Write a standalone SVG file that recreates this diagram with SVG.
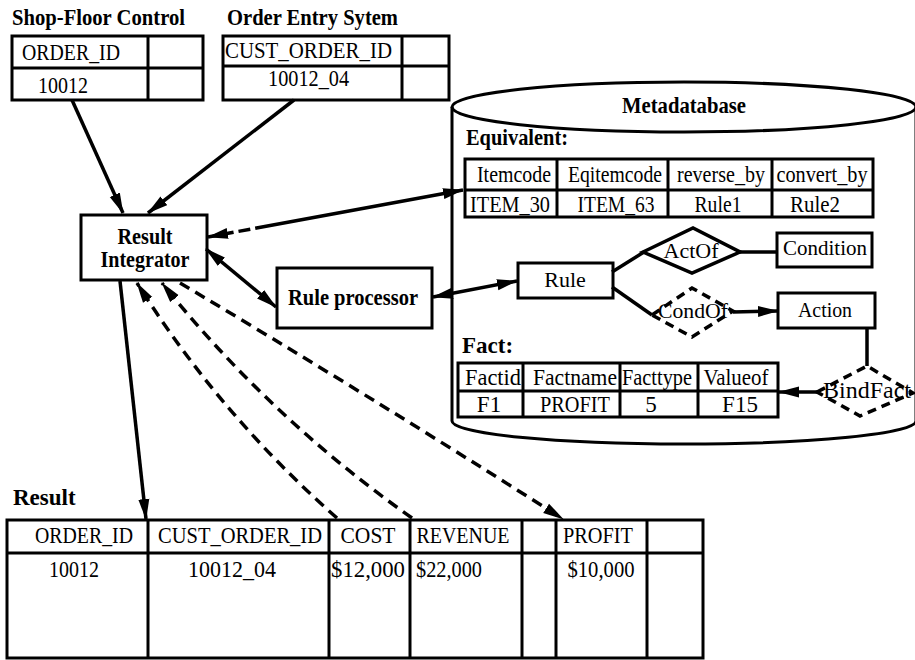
<svg xmlns="http://www.w3.org/2000/svg" width="915" height="660" viewBox="0 0 915 660">
  <style>
    .t { font-family: "Liberation Serif", "Times New Roman", serif; font-size: 23px; fill: #000; }
    .s { font-size: 22px; }
    .b { font-weight: bold; }
    .m { text-anchor: middle; }
    .box { fill: #fff; stroke: #000; stroke-width: 3; }
    .ln { fill: none; stroke: #000; stroke-width: 3; }
    .dia { fill: #fff; stroke: #000; stroke-width: 3.5; }
    .dsh { stroke-dasharray: 9 6; }
    .con { fill: none; stroke: #000; stroke-width: 3.5; }
    .dcon { fill: none; stroke: #000; stroke-width: 3.5; stroke-dasharray: 11 7; }
  </style>
  <defs>
    <marker id="ah" markerUnits="userSpaceOnUse" viewBox="0 0 21 12" markerWidth="21" markerHeight="12" refX="20" refY="6" orient="auto-start-reverse">
      <path d="M0,0.5 L21,6 L0,11.5 Z" fill="#000"/>
    </marker>
  </defs>
  <rect width="915" height="660" fill="#fff"/>

  <!-- source system: shop floor -->
  <g id="shop-floor-control">
    <text class="t b" x="12" y="25" font-size="24" textLength="173" lengthAdjust="spacingAndGlyphs">Shop-Floor Control</text>
    <rect class="box" x="12" y="36" width="191" height="64"/>
    <line class="ln" x1="12" y1="68" x2="203" y2="68"/>
    <line class="ln" x1="148" y1="36" x2="148" y2="100"/>
    <text class="t" x="22" y="60" textLength="98" lengthAdjust="spacingAndGlyphs">ORDER_ID</text>
    <text class="t" x="38" y="93" textLength="50" lengthAdjust="spacingAndGlyphs">10012</text>
  </g>

  <!-- source system: order entry -->
  <g id="order-entry-system">
    <text class="t b" x="227" y="25" font-size="24" textLength="171" lengthAdjust="spacingAndGlyphs">Order Entry Sytem</text>
    <rect class="box" x="223" y="36" width="226" height="64"/>
    <line class="ln" x1="223" y1="66" x2="449" y2="66"/>
    <line class="ln" x1="402" y1="36" x2="402" y2="100"/>
    <text class="t" x="225" y="58" textLength="167" lengthAdjust="spacingAndGlyphs">CUST_ORDER_ID</text>
    <text class="t" x="268" y="86" textLength="81" lengthAdjust="spacingAndGlyphs">10012_04</text>
  </g>

  <g id="result-integrator">
    <rect class="box" x="81" y="215" width="126" height="65"/>
    <text class="t b m" x="145" y="244" font-size="21" textLength="55" lengthAdjust="spacingAndGlyphs">Result</text>
    <text class="t b m" x="145" y="267" font-size="21" textLength="89" lengthAdjust="spacingAndGlyphs">Integrator</text>
  </g>

  <g id="rule-processor">
    <rect class="box" x="277" y="268" width="155" height="60"/>
    <text class="t b m" x="353" y="305" font-size="22" textLength="130" lengthAdjust="spacingAndGlyphs">Rule processor</text>
  </g>

  <!-- metadatabase cylinder with its contents -->
  <g id="metadatabase">
    <path class="ln" d="M452,107 L452,421 A232,23 0 0 0 916,421 L916,107"/>
    <ellipse class="ln" cx="684" cy="107" rx="232" ry="25"/>
    <text class="t b m" x="684" y="113" textLength="124" lengthAdjust="spacingAndGlyphs">Metadatabase</text>

    <g id="equivalent">
      <text class="t b" x="466" y="145" font-size="21" textLength="102" lengthAdjust="spacingAndGlyphs">Equivalent:</text>
      <rect class="box" x="465" y="159" width="408" height="58"/>
      <line class="ln" x1="465" y1="190" x2="873" y2="190"/>
      <line class="ln" x1="557" y1="159" x2="557" y2="217"/>
      <line class="ln" x1="668" y1="159" x2="668" y2="217"/>
      <line class="ln" x1="772" y1="159" x2="772" y2="217"/>
      <text class="t m" x="514" y="182" textLength="74" lengthAdjust="spacingAndGlyphs">Itemcode</text>
      <text class="t m" x="615" y="182" textLength="94" lengthAdjust="spacingAndGlyphs">Eqitemcode</text>
      <text class="t m" x="721" y="182" textLength="88" lengthAdjust="spacingAndGlyphs">reverse_by</text>
      <text class="t m" x="822" y="182" textLength="91" lengthAdjust="spacingAndGlyphs">convert_by</text>
      <text class="t m" x="510" y="212" textLength="80" lengthAdjust="spacingAndGlyphs">ITEM_30</text>
      <text class="t m" x="616" y="212" textLength="77" lengthAdjust="spacingAndGlyphs">ITEM_63</text>
      <text class="t m" x="718" y="212" textLength="47" lengthAdjust="spacingAndGlyphs">Rule1</text>
      <text class="t m" x="815" y="212" textLength="50" lengthAdjust="spacingAndGlyphs">Rule2</text>
    </g>

    <g id="rule">
      <rect class="box" x="518" y="263" width="95" height="35"/>
      <text class="t s m" x="565" y="287">Rule</text>
    </g>
    <g id="act-of">
      <polygon class="dia" points="643,252 693,228 740,252 692,273"/>
      <text class="t s m" x="691" y="258" textLength="55" lengthAdjust="spacingAndGlyphs">ActOf</text>
    </g>
    <g id="condition">
      <rect class="box" x="777" y="233" width="95" height="34"/>
      <text class="t s m" x="825" y="255" textLength="84" lengthAdjust="spacingAndGlyphs">Condition</text>
    </g>
    <g id="cond-of">
      <polygon class="dia dsh" points="652,315 692,288 733,311 692,337"/>
      <text class="t s m" x="693" y="318" textLength="70" lengthAdjust="spacingAndGlyphs">CondOf</text>
    </g>
    <g id="action">
      <rect class="box" x="778" y="293" width="97" height="35"/>
      <text class="t s m" x="825" y="317" textLength="54" lengthAdjust="spacingAndGlyphs">Action</text>
    </g>
    <g id="bind-fact">
      <polygon class="dia dsh" points="817,392 867,366 913,393 860,416" fill="none"/>
      <text class="t" x="823" y="398" textLength="88" lengthAdjust="spacingAndGlyphs">BindFact</text>
    </g>

    <g id="fact">
      <text class="t b" x="462" y="353" font-size="21">Fact:</text>
      <rect class="box" x="458" y="363" width="320" height="54"/>
      <line class="ln" x1="458" y1="391" x2="778" y2="391"/>
      <line class="ln" x1="523" y1="363" x2="523" y2="417"/>
      <line class="ln" x1="620" y1="363" x2="620" y2="417"/>
      <line class="ln" x1="698" y1="363" x2="698" y2="417"/>
      <text class="t m" x="493" y="385" textLength="56" lengthAdjust="spacingAndGlyphs">Factid</text>
      <text class="t m" x="575" y="385" textLength="84" lengthAdjust="spacingAndGlyphs">Factname</text>
      <text class="t m" x="657" y="385" textLength="70" lengthAdjust="spacingAndGlyphs">Facttype</text>
      <text class="t m" x="736" y="385" textLength="65" lengthAdjust="spacingAndGlyphs">Valueof</text>
      <text class="t m" x="489" y="412">F1</text>
      <text class="t m" x="575" y="412" textLength="70" lengthAdjust="spacingAndGlyphs">PROFIT</text>
      <text class="t m" x="651" y="412">5</text>
      <text class="t m" x="740" y="412">F15</text>
    </g>
  </g>

  <!-- integrated result table -->
  <g id="result">
    <text class="t b" x="13" y="505" font-size="21">Result</text>
    <rect class="box" x="7" y="520" width="696" height="138"/>
    <line class="ln" x1="7" y1="553" x2="703" y2="553"/>
    <line class="ln" x1="148" y1="520" x2="148" y2="658"/>
    <line class="ln" x1="329" y1="520" x2="329" y2="658"/>
    <line class="ln" x1="410" y1="520" x2="410" y2="658"/>
    <line class="ln" x1="522" y1="520" x2="522" y2="658"/>
    <line class="ln" x1="556" y1="520" x2="556" y2="658"/>
    <line class="ln" x1="647" y1="520" x2="647" y2="658"/>
    <text class="t m" x="84" y="543" textLength="98" lengthAdjust="spacingAndGlyphs">ORDER_ID</text>
    <text class="t m" x="240" y="543" textLength="164" lengthAdjust="spacingAndGlyphs">CUST_ORDER_ID</text>
    <text class="t m" x="368" y="543" textLength="55" lengthAdjust="spacingAndGlyphs">COST</text>
    <text class="t m" x="463" y="543" textLength="93" lengthAdjust="spacingAndGlyphs">REVENUE</text>
    <text class="t m" x="598" y="543" textLength="70" lengthAdjust="spacingAndGlyphs">PROFIT</text>
    <text class="t m" x="74" y="577" textLength="50" lengthAdjust="spacingAndGlyphs">10012</text>
    <text class="t m" x="232" y="577" textLength="88" lengthAdjust="spacingAndGlyphs">10012_04</text>
    <text class="t m" x="368" y="577" textLength="74" lengthAdjust="spacingAndGlyphs">$12,000</text>
    <text class="t m" x="449" y="577" textLength="66" lengthAdjust="spacingAndGlyphs">$22,000</text>
    <text class="t m" x="601" y="577" textLength="67" lengthAdjust="spacingAndGlyphs">$10,000</text>
  </g>

  <g id="connectors">
    <path class="con" d="M72,100 L123,213" marker-end="url(#ah)"/>
    <path class="con" d="M294,100 L148,213" marker-end="url(#ah)"/>
    <path class="con" d="M208,237 L463,190" stroke-dasharray="26 5 12 5 400" marker-start="url(#ah)" marker-end="url(#ah)"/>
    <path class="con" d="M206,249 L276,307" marker-start="url(#ah)" marker-end="url(#ah)"/>
    <path class="con" d="M433,297 L517,281" marker-start="url(#ah)" marker-end="url(#ah)"/>
    <path class="con" d="M120,281 L146,519" stroke-width="3" marker-end="url(#ah)"/>
    <path class="dcon" d="M337,518 Q220,415 137,283" marker-end="url(#ah)"/>
    <path class="dcon" d="M412,518 Q270,418 162,283" marker-end="url(#ah)"/>
    <path class="dcon" d="M180,283 Q360,390 563,519" marker-end="url(#ah)"/>
    <path class="con" d="M612,272 L644,252"/>
    <path class="con" d="M740,252 L777,252"/>
    <path class="con" d="M612,287 L652,315"/>
    <path class="con" d="M733,312 L778,311" marker-end="url(#ah)"/>
    <path class="con" d="M867,328 L867,366" stroke-width="3"/>
    <path class="con" d="M817,392 L779,392" marker-end="url(#ah)"/>
  </g>
</svg>
